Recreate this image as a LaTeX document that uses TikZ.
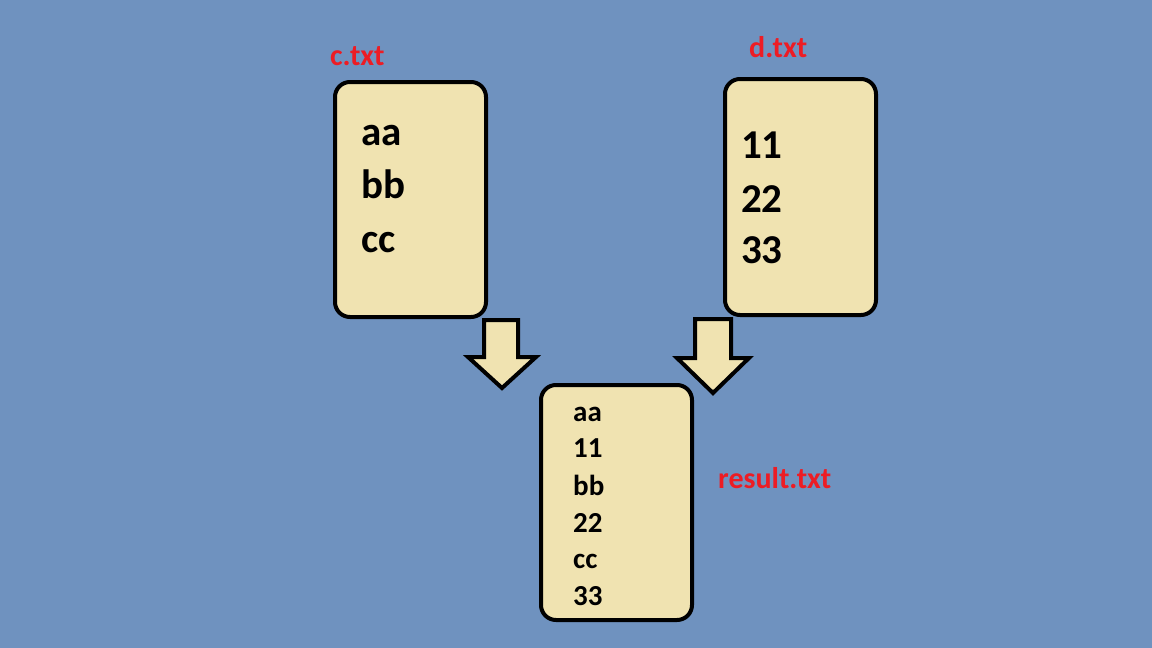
\documentclass[tikz,border=0pt]{standalone}
\usepackage{fontspec}
\setmainfont{Carlito}
\usetikzlibrary{positioning}
\definecolor{bgblue}{RGB}{111,146,191}
\definecolor{paper}{RGB}{240,227,177}
\definecolor{labelred}{RGB}{237,28,36}
\begin{document}
\begin{tikzpicture}[x={(1pt,0)}, y={(0,-1pt)},
    filebox/.style={draw=black, line width=4pt, fill=paper, rounded corners=15pt,
        inner sep=0pt, anchor=north west},
    bigline/.style={anchor=base west, inner sep=0pt, font=\fontsize{41}{44}\selectfont\bfseries},
    smallline/.style={anchor=base west, inner sep=0pt, font=\fontsize{29}{32}\selectfont\bfseries},
    filename/.style={anchor=base west, inner sep=0pt, text=labelred,
        font=\fontsize{30}{34}\selectfont\bfseries},
    blockarrow/.style={draw=black, line width=4pt, fill=paper, line join=miter}]

    % Fondo
    \fill[bgblue] (0,0) rectangle (1152,648);
    \useasboundingbox (0,0) rectangle (1152,648);

    % Archivo c.txt
    \node[filebox, minimum width=151pt, minimum height=235pt] (cbox) at (333,80) {};
    \node[filename] (cname) at (330,65) {c.txt};
    \node[bigline] (caa) at (361,145) {aa};
    \node[bigline] (cbb) at (361,198) {bb};
    \node[bigline] (ccc) at (361,252) {cc};

    % Archivo d.txt
    \node[filebox, minimum width=151pt, minimum height=236pt] (dbox) at (723,77) {};
    \node[filename] (dname) at (749,57) {d.txt};
    \node[bigline] (d11) at (741,158) {11};
    \node[bigline] (d22) at (741,212) {22};
    \node[bigline] (d33) at (741,263) {33};

    % Flechas
    \draw[blockarrow] (484,320) -- (518,320) -- (518,357) -- (536,357) -- (502,388)
        -- (468,357) -- (484,357) -- cycle;
    \draw[blockarrow] (695,319) -- (731,319) -- (731,358) -- (749,358) -- (713,393)
        -- (677,358) -- (695,358) -- cycle;

    % Archivo result.txt
    \node[filebox, minimum width=151pt, minimum height=235pt] (rbox) at (539,383) {};
    \node[filename] (rname) at (718,488) {result.txt};
    \foreach \txt/\y [count=\i] in {aa/421, 11/457, bb/495, 22/532, cc/568, 33/605}
        \node[smallline] (r\i) at (573,\y) {\txt};
\end{tikzpicture}
\end{document}
